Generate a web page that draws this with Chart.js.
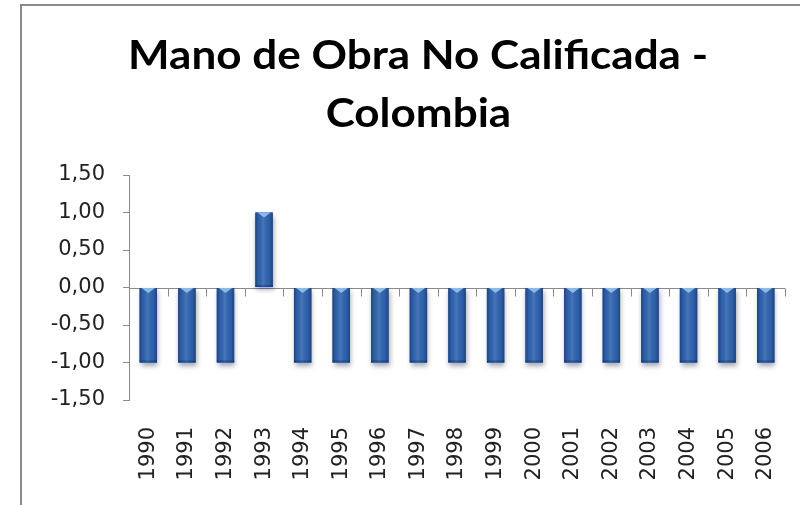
<!DOCTYPE html>
<html>
<head>
<meta charset="utf-8">
<script src="https://cdn.jsdelivr.net/npm/chart.js@4.4.1/dist/chart.umd.min.js"></script>
<style>
  html, body { margin: 0; padding: 0; width: 800px; height: 505px; overflow: hidden; background: #fff; }
  #frame { position: absolute; left: 20px; top: 4px; width: 900px; height: 600px;
           border-left: 2px solid #8a8a8a; border-top: 2px solid #8a8a8a; box-sizing: border-box; }
  #wrap { position: absolute; left: 0; top: 0; width: 800px; height: 505px; }
  .tline { position: absolute; left: 21px; width: 794px; text-align: center;
           font-family: Lato, "Open Sans", sans-serif; font-weight: bold; font-size: 41px;
           color: #000; white-space: nowrap; line-height: 1; }
  .tline span { display: inline-block; transform-origin: center; }
</style>
</head>
<body>
<div id="frame"></div>
<div id="wrap"><canvas id="c" width="800" height="505"></canvas></div>
<div class="tline" id="t1" style="top:33px;"><span>Mano de Obra No Calificada -</span></div>
<div class="tline" id="t2" style="top:91px;"><span>Colombia</span></div>
<script>
const categories = ['1990','1991','1992','1993','1994','1995','1996','1997','1998','1999','2000','2001','2002','2003','2004','2005','2006'];
const values = [-1, -1, -1, 1, -1, -1, -1, -1, -1, -1, -1, -1, -1, -1, -1, -1, -1];
const yTicks = [-1.5, -1.0, -0.5, 0, 0.5, 1.0, 1.5];

// fit title width to reference
(function(){
  const span = document.querySelector('#t1 span');
  const w = span.getBoundingClientRect().width;
  const s = 580 / w;
  document.querySelectorAll('.tline span').forEach(el => el.style.transform = 'scaleX(' + s + ')');
})();

const axisPlugin = {
  id: 'axisDeco',
  beforeDatasetsDraw(chart) {
    const ctx = chart.ctx;
    const xs = chart.scales.x, ys = chart.scales.y;
    const y0 = Math.round(ys.getPixelForValue(0)) + 0.5;
    ctx.save();
    ctx.strokeStyle = '#8a8a8a';
    ctx.lineWidth = 1;
    ctx.beginPath();
    ctx.moveTo(xs.left, y0);
    ctx.lineTo(xs.right, y0);
    const n = categories.length;
    for (let i = 1; i <= n; i++) {
      const x = Math.round(xs.left + i * (xs.right - xs.left) / n) + 0.5;
      ctx.moveTo(x, y0);
      ctx.lineTo(x, y0 + 8);
    }
    ctx.stroke();
    // soft shadows under bars
    const meta = chart.getDatasetMeta(0);
    meta.data.forEach(bar => {
      const l = bar.x - bar.width / 2, top = Math.min(bar.y, bar.base), h = Math.abs(bar.base - bar.y);
      ctx.shadowColor = 'rgba(0,0,0,0.35)';
      ctx.shadowBlur = 5;
      ctx.shadowOffsetX = 1;
      ctx.shadowOffsetY = 3;
      ctx.fillStyle = '#2a5ca6';
      ctx.fillRect(l, top, bar.width, h);
    });
    ctx.restore();
  },
  afterDatasetsDraw(chart) {
    const ctx = chart.ctx;
    const meta = chart.getDatasetMeta(0);
    ctx.save();
    meta.data.forEach(bar => {
      const l = bar.x - bar.width / 2, r = bar.x + bar.width / 2;
      const top = Math.min(bar.y, bar.base), h = Math.abs(bar.base - bar.y);
      const g = ctx.createLinearGradient(l, 0, r, 0);
      g.addColorStop(0, 'rgba(10,30,80,0.45)');
      g.addColorStop(0.18, 'rgba(10,30,80,0.05)');
      g.addColorStop(0.45, 'rgba(255,255,255,0.12)');
      g.addColorStop(0.8, 'rgba(10,30,80,0.05)');
      g.addColorStop(1, 'rgba(10,30,80,0.45)');
      ctx.fillStyle = g;
      ctx.fillRect(l, top, bar.width, h);
      // light bevel at top
      ctx.fillStyle = 'rgba(150,200,245,0.85)';
      ctx.beginPath();
      ctx.moveTo(l + 2, top);
      ctx.lineTo(r - 2, top);
      ctx.lineTo(bar.x, top + 5);
      ctx.closePath();
      ctx.fill();
      // darker bottom edge
      ctx.fillStyle = 'rgba(10,30,80,0.35)';
      ctx.fillRect(l, top + h - 2, bar.width, 2);
    });
    ctx.restore();
  }
};

new Chart(document.getElementById('c'), {
  type: 'bar',
  data: {
    labels: categories,
    datasets: [{
      data: values,
      backgroundColor: '#2e63ae',
      borderWidth: 0,
      barPercentage: 0.45,
      categoryPercentage: 1.0
    }]
  },
  options: {
    responsive: false,
    animation: false,
    events: [],
    layout: { padding: { top: 175, right: 15, bottom: 0, left: 0 } },
    plugins: { legend: { display: false }, title: { display: false }, tooltip: { enabled: false } },
    scales: {
      x: {
        offset: true,
        grid: { display: false, drawTicks: false },
        border: { display: false },
        ticks: {
          autoSkip: false, minRotation: 90, maxRotation: 90, padding: 27,
          color: '#222', font: { family: 'DejaVu Sans', size: 21 }
        },
        afterFit(s) { s.height = 105; s.paddingLeft = 0; s.paddingRight = 0; }
      },
      y: {
        min: -1.5, max: 1.5,
        afterBuildTicks(s) { s.ticks = yTicks.map(v => ({ value: v })); },
        grid: { drawOnChartArea: false, drawTicks: true, tickLength: 6, color: '#8a8a8a' },
        border: { display: true, color: '#8a8a8a', width: 1 },
        ticks: {
          padding: 18, color: '#222', font: { family: 'DejaVu Sans', size: 21 },
          callback: v => v.toFixed(2).replace('.', ',')
        },
        afterFit(s) { s.width = 129; s.paddingTop = 0; s.paddingBottom = 0; }
      }
    }
  },
  plugins: [axisPlugin]
});
</script>
</body>
</html>
